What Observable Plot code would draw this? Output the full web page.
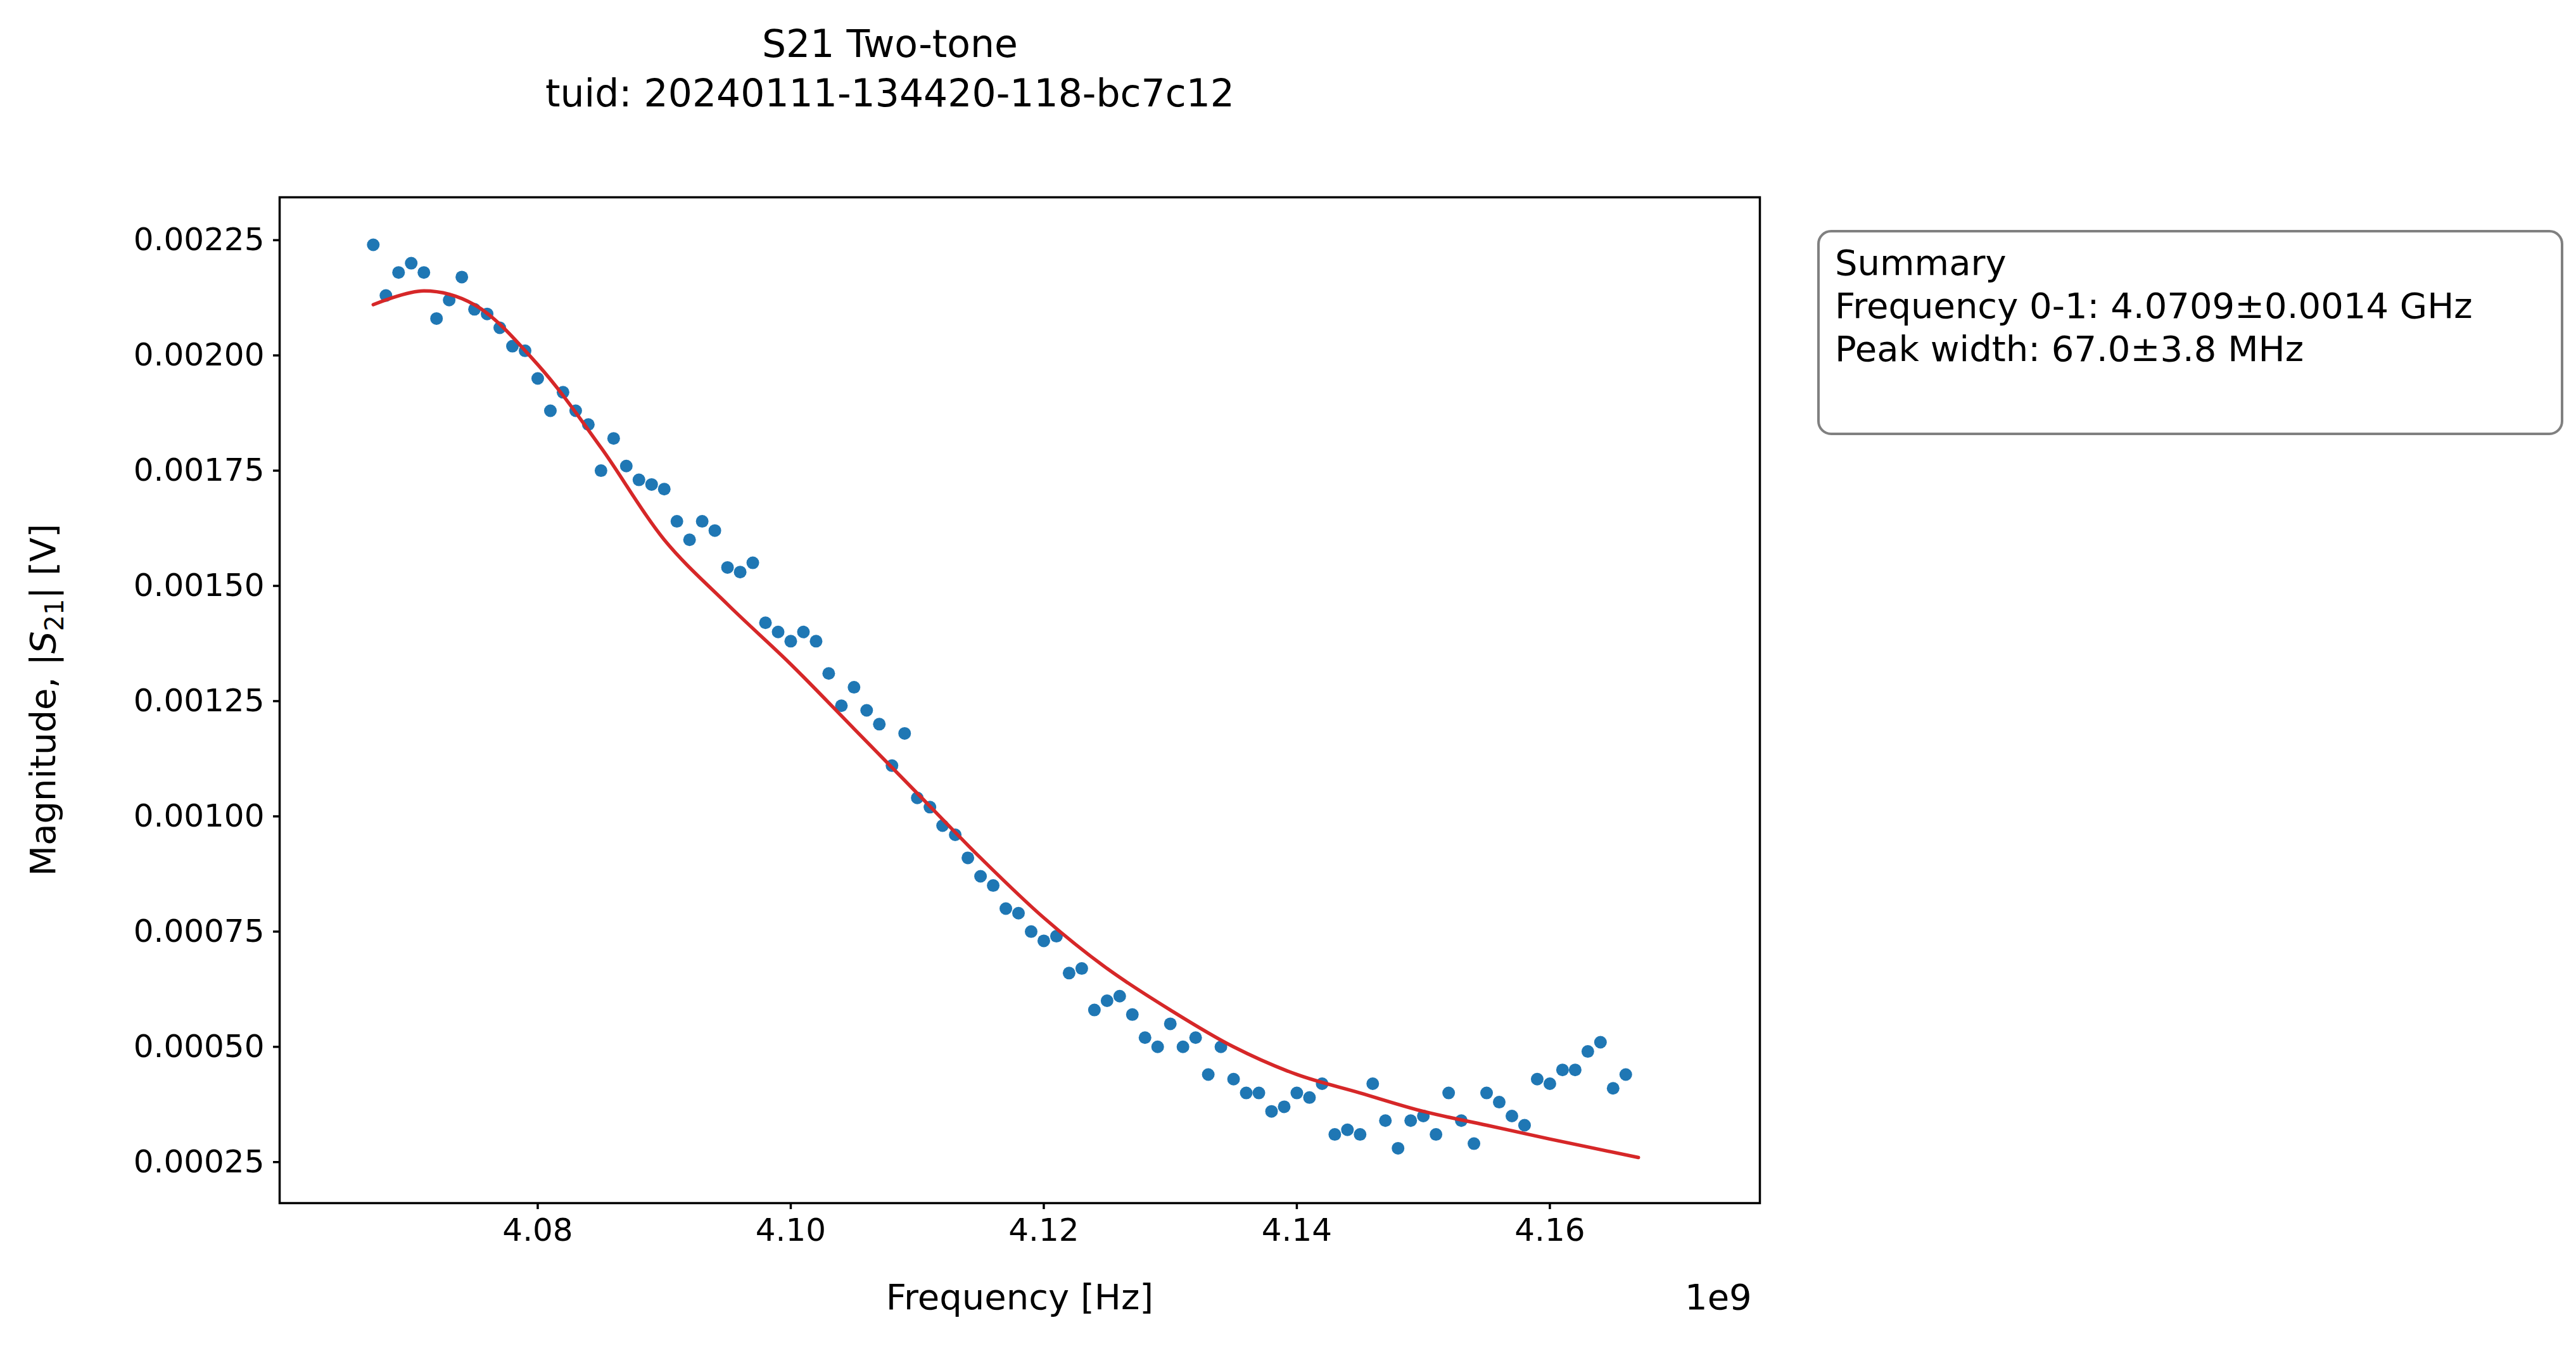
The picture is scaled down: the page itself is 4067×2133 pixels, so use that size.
<!DOCTYPE html>
<html lang="en">
<head>
<meta charset="UTF-8">
<title>S21 Two-tone</title>
<style>
  body { margin: 0; background: #fff; font-family: "DejaVu Sans", sans-serif; }
  #wrap { position: relative; width: 4067px; height: 2133px; }
  .abs { position: absolute; color: #000; white-space: nowrap; }
  #title { left: 1405px; top: 30px; width: 0; font-size: 60px; line-height: 78px; text-align: center; }
  #title div { transform: translateX(-50%); display: inline-block; position: relative; }
  #summary { left: 2869px; top: 363px; width: 1178px; height: 324px; box-sizing: border-box;
    border: 4px solid #808080; border-radius: 22px; padding: 14px 24px; font-size: 56px; line-height: 68px; }
</style>
<script src="https://cdn.jsdelivr.net/npm/d3@7"></script>
<script src="https://cdn.jsdelivr.net/npm/@observablehq/plot@0.6"></script>
</head>
<body>
<div id="wrap">
  <div id="chart"></div>
  <div id="title" class="abs"><div>S21 Two-tone<br>tuid: 20240111-134420-118-bc7c12</div></div>
  <div id="summary" class="abs">Summary<br>Frequency 0-1: 4.0709±0.0014 GHz<br>Peak width: 67.0±3.8 MHz</div>
  <div class="abs" style="left:1610px; top:2015px; font-size:56px; transform:translateX(-50%)">Frequency [Hz]</div>
  <div class="abs" style="left:2660px; top:2015px; font-size:56px;">1e9</div>
  <div class="abs" style="left:72px; top:1105px; font-size:56px; transform:translate(-50%,-50%) rotate(-90deg)">Magnitude, |<i>S</i><sub style="font-size:40px">21</sub>| [V]</div>
</div>
<script>
// measured frequency points, GHz
const freq = [4.067,4.068,4.069,4.070,4.071,4.072,4.073,4.074,4.075,4.076,
  4.077,4.078,4.079,4.080,4.081,4.082,4.083,4.084,4.085,4.086,
  4.087,4.088,4.089,4.090,4.091,4.092,4.093,4.094,4.095,4.096,
  4.097,4.098,4.099,4.100,4.101,4.102,4.103,4.104,4.105,4.106,
  4.107,4.108,4.109,4.110,4.111,4.112,4.113,4.114,4.115,4.116,
  4.117,4.118,4.119,4.120,4.121,4.122,4.123,4.124,4.125,4.126,
  4.127,4.128,4.129,4.130,4.131,4.132,4.133,4.134,4.135,4.136,
  4.137,4.138,4.139,4.140,4.141,4.142,4.143,4.144,4.145,4.146,
  4.147,4.148,4.149,4.150,4.151,4.152,4.153,4.154,4.155,4.156,
  4.157,4.158,4.159,4.160,4.161,4.162,4.163,4.164,4.165,4.166];
const magnitude = [0.00224,0.00213,0.00218,0.00220,0.00218,0.00208,0.00212,0.00217,0.00210,0.00209,
  0.00206,0.00202,0.00201,0.00195,0.00188,0.00192,0.00188,0.00185,0.00175,0.00182,
  0.00176,0.00173,0.00172,0.00171,0.00164,0.00160,0.00164,0.00162,0.00154,0.00153,
  0.00155,0.00142,0.00140,0.00138,0.00140,0.00138,0.00131,0.00124,0.00128,0.00123,
  0.00120,0.00111,0.00118,0.00104,0.00102,0.00098,0.00096,0.00091,0.00087,0.00085,
  0.00080,0.00079,0.00075,0.00073,0.00074,0.00066,0.00067,0.00058,0.00060,0.00061,
  0.00057,0.00052,0.00050,0.00055,0.00050,0.00052,0.00044,0.00050,0.00043,0.00040,
  0.00040,0.00036,0.00037,0.00040,0.00039,0.00042,0.00031,0.00032,0.00031,0.00042,
  0.00034,0.00028,0.00034,0.00035,0.00031,0.00040,0.00034,0.00029,0.00040,0.00038,
  0.00035,0.00033,0.00043,0.00042,0.00045,0.00045,0.00049,0.00051,0.00041,0.00044];
// fitted curve read at sample frequencies
const fitFreq = [4.067,4.071,4.075,4.080,4.085,4.090,4.095,4.100,4.105,4.110,4.115,4.120,4.125,4.130,4.135,4.140,4.145,4.150,4.155,4.160,4.167];
const fitMag = [0.00211,0.00214,0.00211,0.00198,0.00180,0.00160,0.00146,0.00133,0.00119,0.00105,0.00091,0.00078,0.00067,0.00058,0.00050,0.00044,0.00040,0.00036,0.00033,0.00030,0.00026];
const xTicks = [4.08, 4.10, 4.12, 4.14, 4.16];
const yTicks = [0.00025, 0.0005, 0.00075, 0.001, 0.00125, 0.0015, 0.00175, 0.002, 0.00225];

const points = freq.map((f, i) => ({f, m: magnitude[i]}));
const fit = fitFreq.map((f, i) => ({f, m: fitMag[i]}));

const plot = Plot.plot({
  width: 4067,
  height: 2133,
  marginLeft: 441,
  marginRight: 1289,
  marginTop: 311,
  marginBottom: 234,
  style: {fontFamily: "DejaVu Sans", fontSize: "50px", color: "#000", background: "#fff"},
  x: {domain: [4.0596, 4.1766], label: null},
  y: {domain: [0.000161, 0.002343], label: null},
  marks: [
    Plot.frame({stroke: "#000", strokeWidth: 3.5}),
    Plot.axisX(xTicks, {tickSize: 10, tickPadding: 14, strokeWidth: 3.5, fontSize: 50, tickFormat: d3.format(".2f"), label: null}),
    Plot.axisY(yTicks, {tickSize: 10, tickPadding: 14, strokeWidth: 3.5, fontSize: 50, tickFormat: d3.format(".5f"), label: null}),
    Plot.dot(points, {x: "f", y: "m", r: 10, fill: "#1f77b4", stroke: null}),
    Plot.line(fit, {x: "f", y: "m", stroke: "#d62728", strokeWidth: 5.5, curve: "catmull-rom"})
  ]
});
document.getElementById("chart").appendChild(plot);
</script>
</body>
</html>
